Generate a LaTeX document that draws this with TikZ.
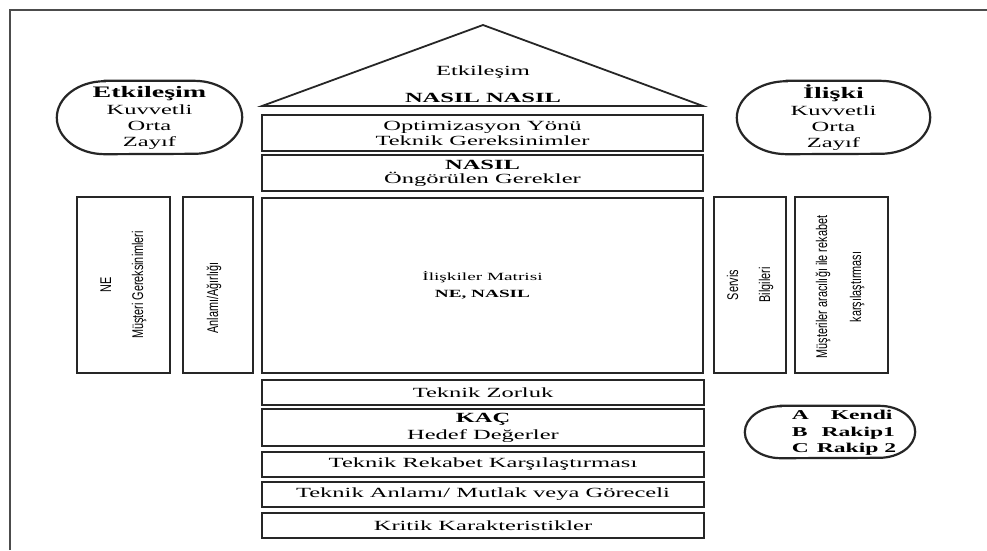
\documentclass[tikz,border=0pt]{standalone}
\usepackage{fontspec}
\setmainfont{Liberation Serif}[FakeStretch=1.75]
\newfontfamily\narrowsans{Liberation Sans}[FakeStretch=0.7]
\newcommand\fsz[2]{\fontsize{#1}{#2}\selectfont}
\begin{document}
\begin{tikzpicture}[x=1pt,y=-1pt,
  box/.style={draw=black!85, line width=1.8pt, rectangle, inner sep=0pt, align=center, font=\fsz{14}{15}},
  oval/.style={rectangle, inner sep=0pt, align=center, font=\fsz{14}{16}},
  ovalline/.style={draw=black!85, line width=2.2pt},
  rot/.style={rotate=90, align=center, inner sep=0pt, font=\narrowsans\fsz{15.5}{32}},
  txt/.style={inner sep=0pt, align=center}]
\useasboundingbox (0,0) rectangle (987,550);
\fill[white] (0,0) rectangle (987,550);
% frame
\draw[line width=2pt, black!70] (10,550) -- (10,10) -- (987,10);
% roof
\draw[line width=1.8pt, black!85, line join=miter] (262,106) -- (483,25) -- (703,106) -- cycle;
\node[txt, font=\fsz{14}{16}] (roof1) at (483,72) {Etkileşim};
\node[txt, font=\fsz{14}{16}\bfseries] (roof2) at (483,98) {NASIL NASIL};
% top boxes
\node[box, minimum width=441pt, minimum height=36pt] (opt) at (482.5,133) {Optimizasyon Yönü\\Teknik Gereksinimler};
\node[box, minimum width=441pt, minimum height=36pt, font=\fsz{14}{14}] (nasil) at (482.5,173) {\textbf{NASIL}\\Öngörülen Gerekler};
% matrix
\node[box, minimum width=441pt, minimum height=175pt, font=\fsz{11}{17}] (mat) at (482.5,285.5) {İlişkiler Matrisi\\\textbf{NE, NASIL}};
% side boxes
\node[box, minimum width=93pt, minimum height=176pt] (ne) at (123.5,285) {};
\node[rot] (netxt) at (ne.center) {NE\\Müşteri Gereksinimleri};
\node[box, minimum width=70pt, minimum height=176pt] (agr) at (218,285) {};
\node[rot] (agrtxt) at (214,298) {Anlamı/Ağırlığı};
\node[box, minimum width=72pt, minimum height=176pt] (srv) at (750,285) {};
\node[rot] (srvtxt) at (srv.center) {Servis\\Bilgileri};
\node[box, minimum width=93pt, minimum height=176pt] (mus) at (841.5,285) {};
\node[rot, font=\narrowsans\fsz{15.5}{34}] (mustxt) at (840,287) {Müşteriler aracılığı ile rekabet\\karşılaştırması};
% bottom boxes
\node[box, minimum width=442pt, minimum height=25pt] (zor) at (483,392.5) {Teknik Zorluk};
\node[box, minimum width=442pt, minimum height=37pt, font=\fsz{14}{17}] (kac) at (483,427.5) {\textbf{KAÇ}\\Hedef Değerler};
\node[box, minimum width=442pt, minimum height=25pt] (rek) at (483,464.5) {Teknik Rekabet Karşılaştırması};
\node[box, minimum width=442pt, minimum height=25pt] (anl) at (483,494.5) {Teknik Anlamı/ Mutlak veya Göreceli};
\node[box, minimum width=442pt, minimum height=25pt] (krt) at (483,525.5) {Kritik Karakteristikler};
% ovals
\node[oval, minimum width=185pt, minimum height=73pt] (etk) at (149.5,117.5) {{\fsz{16}{16}\bfseries Etkileşim}\\[1pt]Kuvvetli\\Orta\\Zayıf};
\draw[ovalline] ([xshift=48pt]etk.north west) -- ([xshift=-48pt]etk.north east)
  arc[start angle=90, end angle=-90, x radius=48pt, y radius=36.5pt]
  -- ([xshift=48pt]etk.south west)
  arc[start angle=270, end angle=90, x radius=48pt, y radius=36.5pt] -- cycle;
\node[oval, minimum width=193pt, minimum height=73pt] (ili) at (833.5,117.5) {{\fsz{16}{16}\bfseries İlişki}\\[1pt]Kuvvetli\\Orta\\Zayıf};
\draw[ovalline] ([xshift=50pt]ili.north west) -- ([xshift=-50pt]ili.north east)
  arc[start angle=90, end angle=-90, x radius=50pt, y radius=36.5pt]
  -- ([xshift=50pt]ili.south west)
  arc[start angle=270, end angle=90, x radius=50pt, y radius=36.5pt] -- cycle;
\node[oval, minimum width=170pt, minimum height=52pt] (abc) at (830,432) {};
\draw[ovalline] ([xshift=36pt]abc.north west) -- ([xshift=-36pt]abc.north east)
  arc[start angle=90, end angle=-90, x radius=36pt, y radius=26pt]
  -- ([xshift=36pt]abc.south west)
  arc[start angle=270, end angle=90, x radius=36pt, y radius=26pt] -- cycle;
\node[txt, align=left, font=\fsz{13.5}{16.5}\bfseries] (abctxt) at (844,433) {A\hspace*{22pt}Kendi\\B\hspace*{14pt}Rakip1\\C\hspace*{8pt}Rakip 2};
\end{tikzpicture}
\end{document}
